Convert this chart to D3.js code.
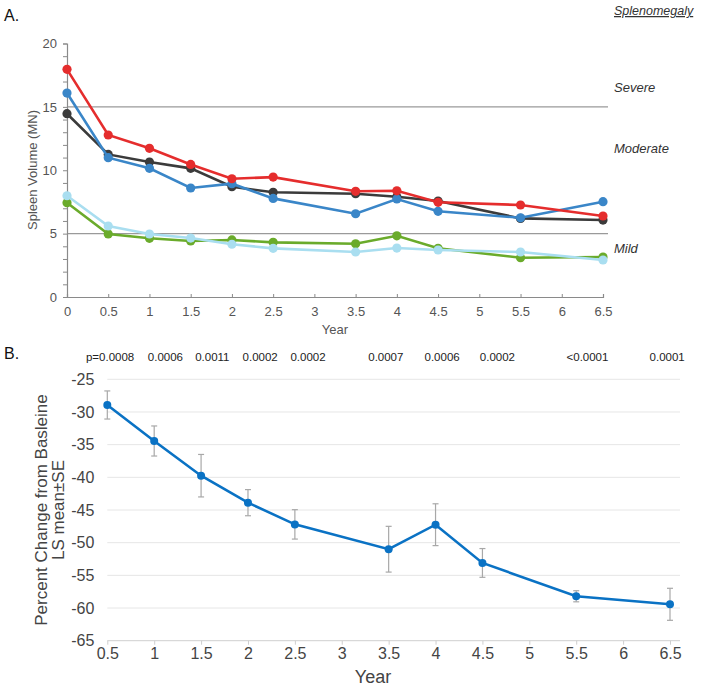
<!DOCTYPE html>
<html><head><meta charset="utf-8">
<script src="https://cdn.jsdelivr.net/npm/d3@7"></script>
<style>body{margin:0;background:#fff}svg{display:block;font-family:"Liberation Sans",Arial,sans-serif}</style>
</head><body><svg id="c" width="709" height="687"></svg>
<script>
// ---------- Panel A data ----------
const yearsA = [0, 0.5, 1, 1.5, 2, 2.5, 3.5, 4, 4.5, 5.5, 6.5];
const blackSeries = [14.46, 11.25, 10.65, 10.15, 8.7, 8.26, 8.15, 7.91, 7.57, 6.2, 6.07];
const greenSeries = [7.44, 4.97, 4.63, 4.42, 4.5, 4.31, 4.2, 4.83, 3.84, 3.1, 3.15];
const lightBlueSeries = [7.99, 5.6, 4.97, 4.65, 4.16, 3.84, 3.55, 3.86, 3.71, 3.55, 2.92];
const blueSeries = [16.09, 10.99, 10.15, 8.6, 8.94, 7.78, 6.57, 7.73, 6.76, 6.25, 7.52];
const redSeries = [17.96, 12.78, 11.73, 10.46, 9.33, 9.46, 8.34, 8.38, 7.47, 7.26, 6.39];
const xTicksA = [0, 0.5, 1, 1.5, 2, 2.5, 3, 3.5, 4, 4.5, 5, 5.5, 6, 6.5];
const yTicksA = [0, 5, 10, 15, 20];
const thresholds = [15, 5];
const zoneLabels = [{t: "Severe", v: 16.55}, {t: "Moderate", v: 11.75}, {t: "Mild", v: 3.85}];

// ---------- Panel B data ----------
const yearsB = [0.5, 1, 1.5, 2, 2.5, 3.5, 4, 4.5, 5.5, 6.5];
const meanB = [-28.93, -34.44, -39.75, -43.88, -47.2, -51.0, -47.25, -53.1, -58.2, -59.43];
const seB = [2.15, 2.3, 3.25, 2.0, 2.25, 3.5, 3.2, 2.2, 0.85, 2.45];
const pValues = ["p=0.0008", "0.0006", "0.0011", "0.0002", "0.0002", "0.0007", "0.0006", "0.0002", "<0.0001", "0.0001"];
const pLabelX = [0.53, 1.12, 1.62, 2.13, 2.64, 3.47, 4.07, 4.66, 5.62, 6.47];
const xTicksB = [0.5, 1, 1.5, 2, 2.5, 3, 3.5, 4, 4.5, 5, 5.5, 6, 6.5];
const yTicksB = [-25, -30, -35, -40, -45, -50, -55, -60, -65];

const svg = d3.select("#c");

// ===== Panel A =====
const xA = d3.scaleLinear().domain([0, 6.5]).range([67, 603]);
const yA = d3.scaleLinear().domain([0, 20]).range([297, 43.5]);
const gA = svg.append("g");

gA.append("text").attr("x", 4).attr("y", 21).attr("font-size", 16).attr("fill", "#111").text("A.");

gA.selectAll("line.thr").data(thresholds).enter().append("line")
  .attr("x1", xA(0)).attr("x2", 608).attr("y1", d => yA(d)).attr("y2", d => yA(d))
  .attr("stroke", "#9a9a9a").attr("stroke-width", 1.3);

const yAxA = gA.append("g").attr("transform", `translate(${xA(0)},0)`)
  .call(d3.axisLeft(yA).tickValues(d3.range(0, 21, 1)).tickSize(4).tickFormat(d => yTicksA.includes(d) ? String(d) : ""));
yAxA.select(".domain").attr("stroke", "#8a8a8a").attr("stroke-width", 1.2);
yAxA.selectAll(".tick line").attr("stroke", "#8a8a8a");
yAxA.selectAll(".tick text").attr("font-size", 13).attr("fill", "#555").attr("dx", -3);

const xAxA = gA.append("g").attr("transform", `translate(0,${yA(0)})`)
  .call(d3.axisBottom(xA).tickValues(xTicksA).tickSize(-3).tickFormat(d => String(d)));
xAxA.select(".domain").attr("stroke", "#8a8a8a").attr("stroke-width", 1.2);
xAxA.selectAll(".tick line").attr("stroke", "#8a8a8a");
xAxA.selectAll(".tick text").attr("font-size", 13).attr("fill", "#555").attr("dy", "1.25em");

gA.append("text").attr("x", 335).attr("y", 334).attr("text-anchor", "middle")
  .attr("font-size", 13).attr("fill", "#555").text("Year");
gA.append("text").attr("transform", `translate(37,170) rotate(-90)`).attr("text-anchor", "middle")
  .attr("font-size", 13).attr("fill", "#555").text("Spleen Volume (MN)");

gA.append("text").attr("x", 614).attr("y", 15).attr("font-size", 12.5).attr("font-style", "italic")
  .attr("fill", "#333").attr("text-decoration", "underline").text("Splenomegaly");
gA.selectAll("text.zone").data(zoneLabels).enter().append("text")
  .attr("x", 614).attr("y", d => yA(d.v) + 4.5).attr("font-size", 13).attr("font-style", "italic")
  .attr("fill", "#333").text(d => d.t);

const seriesA = [
  {v: blackSeries, c: "#3b3b3b"},
  {v: greenSeries, c: "#6aab2b"},
  {v: lightBlueSeries, c: "#a9def0"},
  {v: blueSeries, c: "#3a86c8"},
  {v: redSeries, c: "#e52d2d"}
];
const lineA = d3.line().x(d => xA(d[0])).y(d => yA(d[1]));
seriesA.forEach(s => {
  const pts = yearsA.map((x, i) => [x, s.v[i]]);
  gA.append("path").datum(pts).attr("d", lineA).attr("fill", "none")
    .attr("stroke", s.c).attr("stroke-width", 2.6);
  gA.selectAll(null).data(pts).enter().append("circle")
    .attr("cx", d => xA(d[0])).attr("cy", d => yA(d[1])).attr("r", 4.6).attr("fill", s.c);
});

// ===== Panel B =====
const xB = d3.scaleLinear().domain([0.5, 6.5]).range([107.3, 670]);
const yB = d3.scaleLinear().domain([-65, -25]).range([640.7, 379.3]);
const gB = svg.append("g");

gB.append("text").attr("x", 4).attr("y", 359).attr("font-size", 16).attr("fill", "#111").text("B.");

gB.selectAll("line.grid").data(yTicksB.filter(d => d !== -65)).enter().append("line")
  .attr("x1", 107.3).attr("x2", 680).attr("y1", d => yB(d)).attr("y2", d => yB(d))
  .attr("stroke", "#e6e6e6").attr("stroke-width", 1);

const yAxB = gB.append("g").attr("transform", `translate(107.3,0)`)
  .call(d3.axisLeft(yB).tickValues(yTicksB).tickSize(0).tickPadding(13).tickFormat(d => String(d)));
yAxB.select(".domain").remove();
yAxB.selectAll(".tick text").attr("font-size", 16).attr("fill", "#444");

const xAxB = gB.append("g").attr("transform", `translate(0,${yB(-65)})`)
  .call(d3.axisBottom(xB).tickValues(xTicksB).tickSize(4).tickFormat(d => String(d)));
xAxB.select(".domain").attr("stroke", "#cfcfcf").attr("d", `M107.3,0H680`);
xAxB.selectAll(".tick line").attr("stroke", "#cfcfcf");
xAxB.selectAll(".tick text").attr("font-size", 16).attr("fill", "#444").attr("dy", "0.72em");

gB.append("text").attr("x", 373).attr("y", 683).attr("text-anchor", "middle")
  .attr("font-size", 18).attr("fill", "#444").text("Year");
gB.append("text").attr("transform", `translate(47,510) rotate(-90)`).attr("text-anchor", "middle")
  .attr("font-size", 17).attr("fill", "#444").text("Percent Change from Basleine");
gB.append("text").attr("transform", `translate(64,510) rotate(-90)`).attr("text-anchor", "middle")
  .attr("font-size", 17).attr("fill", "#444").text("LS mean±SE");

gB.selectAll("text.p").data(pValues).enter().append("text")
  .attr("x", (d, i) => xB(pLabelX[i])).attr("y", 361).attr("text-anchor", "middle")
  .attr("font-size", 11.5).attr("fill", "#222").text(d => d);

const ptsB = yearsB.map((x, i) => ({x, m: meanB[i], se: seB[i]}));
const eb = gB.selectAll("g.eb").data(ptsB).enter().append("g");
eb.append("line").attr("x1", d => xB(d.x)).attr("x2", d => xB(d.x))
  .attr("y1", d => yB(d.m + d.se)).attr("y2", d => yB(d.m - d.se))
  .attr("stroke", "#a8a8a8").attr("stroke-width", 1.2);
[1, -1].forEach(s => {
  eb.append("line").attr("x1", d => xB(d.x) - 3).attr("x2", d => xB(d.x) + 3)
    .attr("y1", d => yB(d.m + s * d.se)).attr("y2", d => yB(d.m + s * d.se))
    .attr("stroke", "#a8a8a8").attr("stroke-width", 1.2);
});

const lineB = d3.line().x(d => xB(d.x)).y(d => yB(d.m));
gB.append("path").datum(ptsB).attr("d", lineB).attr("fill", "none")
  .attr("stroke", "#0a72c4").attr("stroke-width", 2.6);
gB.selectAll("circle.b").data(ptsB).enter().append("circle")
  .attr("cx", d => xB(d.x)).attr("cy", d => yB(d.m)).attr("r", 4).attr("fill", "#0a72c4");
</script></body></html>
